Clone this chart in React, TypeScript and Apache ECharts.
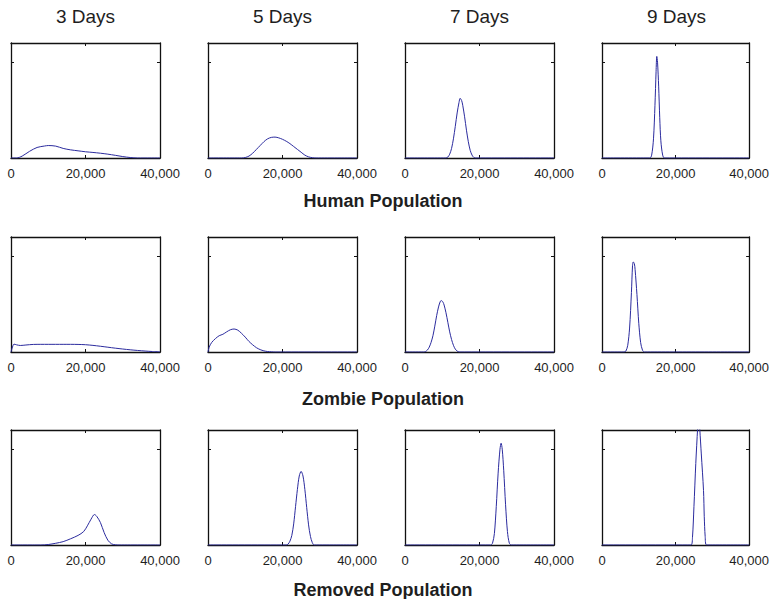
import { useEffect, useRef } from 'react';
import * as echarts from 'echarts';

// ---- labels ----
const dayLabels = ['3 Days', '5 Days', '7 Days', '9 Days'];
const populationLabels = ['Human Population', 'Zombie Population', 'Removed Population'];
const xTickLabels = ['0', '20,000', '40,000'];
const X_MAX = 40000;
const X_INTERVAL = 20000;
const Y_MAX = 1.2;
const Y_INTERVAL = 1;

// ---- density curves: [population, density] ----
const human3 = [[0, 0], [1500, 0], [3000, 0.02], [5000, 0.07], [7000, 0.11], [9000, 0.125], [10000, 0.13], [12000, 0.124], [14000, 0.1], [16000, 0.085], [18000, 0.075], [20000, 0.065], [22000, 0.058], [24000, 0.05], [26000, 0.04], [28000, 0.028], [30000, 0.015], [32000, 0.005], [34000, 0], [40000, 0]];
const human5 = [[0, 0], [9000, 0], [10000, 0.005], [11000, 0.02], [12000, 0.05], [13000, 0.09], [14000, 0.13], [15000, 0.17], [16000, 0.2], [17000, 0.215], [18000, 0.218], [19000, 0.21], [20000, 0.195], [21000, 0.175], [22000, 0.15], [23000, 0.12], [24000, 0.09], [25000, 0.06], [26000, 0.03], [27000, 0.012], [28000, 0.003], [29000, 0], [40000, 0]];
const human7 = [[0, 0], [11000, 0], [11500, 0.01], [12000, 0.04], [12500, 0.1], [13000, 0.2], [13500, 0.33], [14000, 0.47], [14500, 0.58], [14800, 0.623], [15200, 0.6], [15500, 0.55], [16000, 0.43], [16500, 0.29], [17000, 0.17], [17500, 0.08], [18000, 0.03], [18500, 0.005], [19000, 0], [40000, 0]];
const human9 = [[0, 0], [13000, 0], [13500, 0.03], [14000, 0.2], [14400, 0.55], [14700, 0.9], [14900, 1.06], [15100, 1.0], [15400, 0.75], [15700, 0.42], [16000, 0.18], [16500, 0.03], [17000, 0], [40000, 0]];

const zombie3 = [[0, 0], [300, 0.04], [800, 0.082], [1500, 0.075], [2500, 0.068], [4000, 0.073], [6000, 0.079], [8000, 0.08], [10000, 0.08], [12000, 0.08], [14000, 0.08], [16000, 0.08], [18000, 0.079], [20000, 0.076], [22000, 0.069], [24000, 0.06], [26000, 0.05], [28000, 0.04], [30000, 0.031], [32000, 0.023], [34000, 0.016], [36000, 0.01], [38000, 0.005], [40000, 0.002]];
const zombie5 = [[0, 0], [300, 0.05], [1000, 0.1], [2000, 0.14], [3000, 0.17], [4000, 0.185], [5000, 0.21], [6000, 0.232], [7000, 0.24], [8000, 0.228], [9000, 0.195], [10000, 0.155], [11000, 0.11], [12000, 0.075], [13000, 0.045], [14000, 0.025], [15000, 0.012], [16000, 0.005], [17000, 0.002], [18000, 0], [40000, 0]];
const zombie7 = [[0, 0], [5000, 0], [5500, 0.005], [6000, 0.02], [6500, 0.05], [7000, 0.1], [7500, 0.17], [8000, 0.27], [8500, 0.38], [9000, 0.47], [9500, 0.53], [9800, 0.536], [10200, 0.52], [10500, 0.49], [11000, 0.41], [11500, 0.31], [12000, 0.21], [12500, 0.13], [13000, 0.07], [13500, 0.03], [14000, 0.01], [14500, 0], [40000, 0]];
const zombie9 = [[0, 0], [6000, 0], [6500, 0.01], [7000, 0.07], [7500, 0.25], [8000, 0.62], [8300, 0.9], [8500, 0.94], [8800, 0.92], [9000, 0.86], [9500, 0.6], [10000, 0.3], [10500, 0.1], [11000, 0.02], [11500, 0], [40000, 0]];

const removed3 = [[0, 0], [8000, 0], [10000, 0.005], [12000, 0.018], [14000, 0.035], [16000, 0.065], [18000, 0.1], [19500, 0.14], [20500, 0.2], [21500, 0.27], [22400, 0.318], [23000, 0.3], [24000, 0.235], [25000, 0.13], [26000, 0.05], [27000, 0.012], [28000, 0.002], [29000, 0], [40000, 0]];
const removed5 = [[0, 0], [21000, 0], [21500, 0.01], [22000, 0.04], [22500, 0.1], [23000, 0.22], [23500, 0.4], [24000, 0.58], [24500, 0.72], [25000, 0.768], [25500, 0.72], [26000, 0.58], [26500, 0.39], [27000, 0.21], [27500, 0.09], [28000, 0.025], [28500, 0], [40000, 0]];
const removed7 = [[0, 0], [23000, 0], [23500, 0.02], [24000, 0.12], [24500, 0.4], [25000, 0.75], [25500, 1.0], [25800, 1.062], [26100, 1.0], [26500, 0.78], [27000, 0.42], [27500, 0.14], [28000, 0.02], [28500, 0], [40000, 0]];
const removed9 = [[0, 0], [24200, 0], [24600, 0.08], [25000, 0.4], [25500, 0.85], [26000, 1.22], [26300, 1.4], [26600, 1.2], [27000, 0.95], [27600, 0.57], [27800, 0.3], [28050, 0.09], [28400, 0], [40000, 0]];

const curveRows = [
  [human3, human5, human7, human9],
  [zombie3, zombie5, zombie7, zombie9],
  [removed3, removed5, removed7, removed9],
];

// ---- layout ----
const colLeft = [11, 208, 405, 602];
const rowTop = [43, 237, 430];
const plotW = 149;
const plotH = 115;
const rowTitleY = [201, 399, 590];
const colTitleY = 16;
const FONT = '"Liberation Sans", Arial, Helvetica, sans-serif';
const LINE_COLOR = '#2b2b9e';
const TEXT_COLOR = '#1e1e1e';

export default function App() {
  const ref = useRef<HTMLDivElement>(null);

  useEffect(() => {
    if (!ref.current) return;
    const chart = echarts.init(ref.current, undefined, { renderer: 'svg' });

    const grid: any[] = [];
    const xAxis: any[] = [];
    const yAxis: any[] = [];
    const series: any[] = [];
    const graphic: any[] = [];

    const axisLine = { show: true, onZero: false, lineStyle: { color: '#111', width: 1.3 } };
    const tick = { show: true, inside: true, length: 3, lineStyle: { color: '#111', width: 1 } };

    curveRows.forEach((row, r) => {
      row.forEach((data, c) => {
        const g = grid.length;
        grid.push({ left: colLeft[c], top: rowTop[r], width: plotW, height: plotH, containLabel: false });
        // bottom x axis with labels
        xAxis.push({
          type: 'value', gridIndex: g, position: 'bottom', min: 0, max: X_MAX, interval: X_INTERVAL,
          axisLine, axisTick: tick, splitLine: { show: false },
          axisLabel: {
            show: true, margin: 9, interval: 0, showMinLabel: true, showMaxLabel: true,
            color: TEXT_COLOR, fontSize: 13, fontFamily: FONT,
            formatter: (v: number) => xTickLabels[Math.round(v / X_INTERVAL)] ?? '',
          },
        });
        // top x axis (frame + tick)
        xAxis.push({
          type: 'value', gridIndex: g, position: 'top', min: 0, max: X_MAX, interval: X_INTERVAL,
          axisLine, axisTick: tick, splitLine: { show: false }, axisLabel: { show: false },
        });
        yAxis.push({
          type: 'value', gridIndex: g, position: 'left', min: 0, max: Y_MAX, interval: Y_INTERVAL,
          axisLine, axisTick: tick, splitLine: { show: false }, axisLabel: { show: false },
        });
        yAxis.push({
          type: 'value', gridIndex: g, position: 'right', min: 0, max: Y_MAX, interval: Y_INTERVAL,
          axisLine, axisTick: tick, splitLine: { show: false }, axisLabel: { show: false },
        });
        series.push({
          type: 'line', xAxisIndex: 2 * g, yAxisIndex: 2 * g, data,
          showSymbol: false, symbol: 'none', smooth: 0.3, clip: true,
          lineStyle: { color: LINE_COLOR, width: 1 },
        });
      });
    });

    dayLabels.forEach((t, c) => {
      graphic.push({
        type: 'text', x: colLeft[c] + plotW / 2, y: colTitleY,
        style: { text: t, align: 'center', verticalAlign: 'middle', fill: TEXT_COLOR, fontSize: 19, fontFamily: FONT },
      });
    });
    const center = (colLeft[0] + colLeft[3] + plotW) / 2 + 2;
    populationLabels.forEach((t, r) => {
      graphic.push({
        type: 'text', x: center, y: rowTitleY[r],
        style: { text: t, align: 'center', verticalAlign: 'middle', fill: TEXT_COLOR, fontSize: 18, fontWeight: 'bold', fontFamily: FONT },
      });
    });

    chart.setOption({
      animation: false,
      backgroundColor: '#ffffff',
      grid, xAxis, yAxis, series, graphic,
    });
    return () => chart.dispose();
  }, []);

  return <div ref={ref} style={{ position: 'fixed', left: 0, top: 0, width: 772, height: 599 }} />;
}
